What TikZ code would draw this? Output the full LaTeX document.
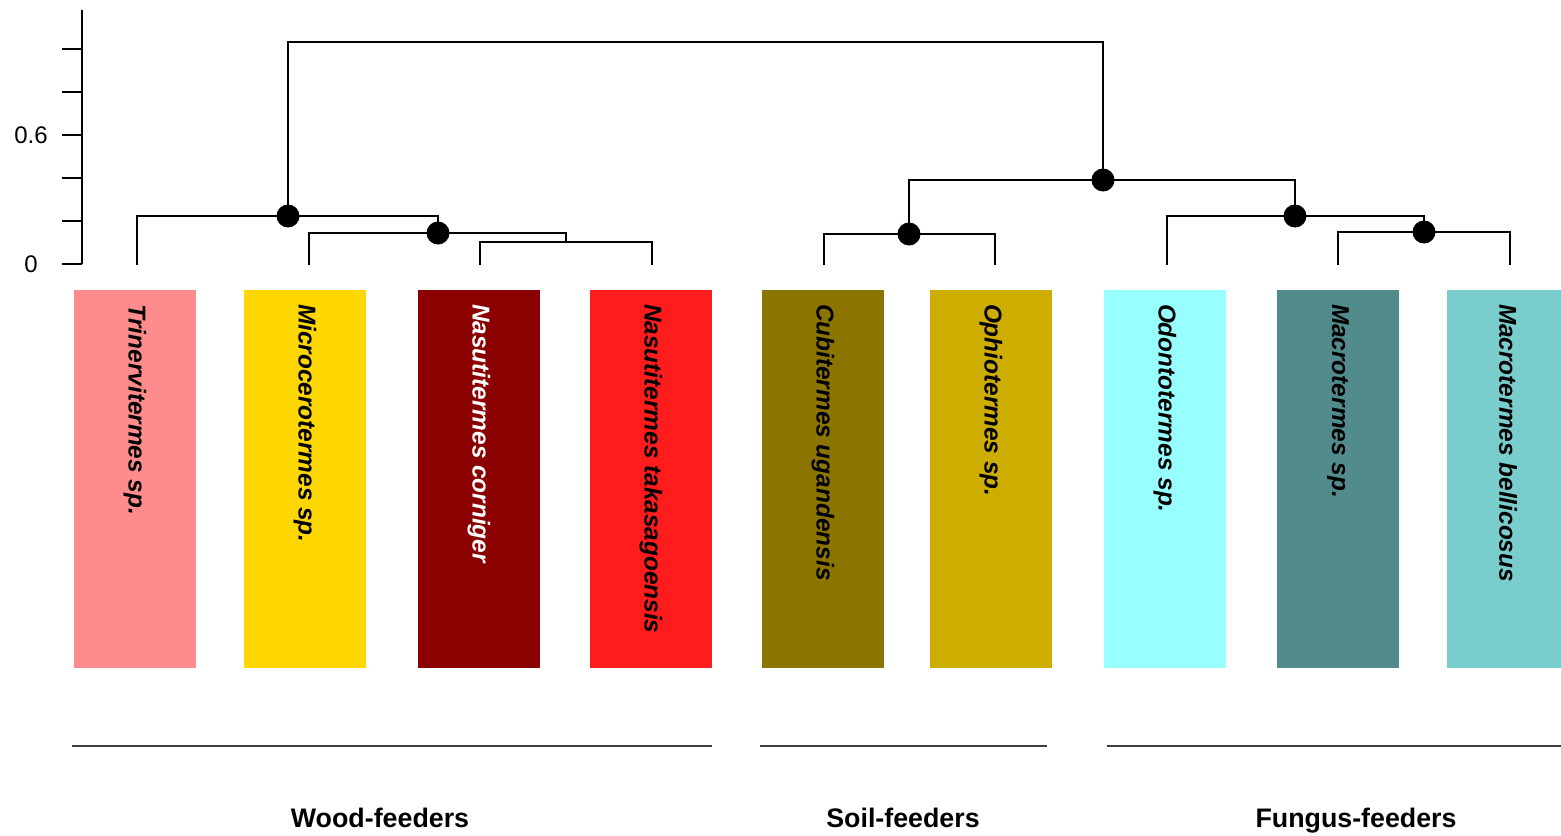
\documentclass[tikz,border=0pt]{standalone}
\usepackage{fontspec}
\setmainfont{Liberation Sans}
\usepackage{xcolor}
\usepackage{tikz}
\usetikzlibrary{calc}
\definecolor{trinc}{HTML}{FF8C8C}
\definecolor{microc}{HTML}{FFD700}
\definecolor{nasucc}{HTML}{8B0000}
\definecolor{nasutc}{HTML}{FF1C1C}
\definecolor{cubic}{HTML}{8B7500}
\definecolor{ophic}{HTML}{CDAD00}
\definecolor{odonc}{HTML}{97FFFF}
\definecolor{macrsc}{HTML}{528B8B}
\definecolor{macrbc}{HTML}{79CDCD}

\begin{document}
\begin{tikzpicture}[
    x=0.5pt, y=-0.5pt,
    every node/.style={font=\fontsize{12}{14}\selectfont},
    branch/.style={line width=1.15pt, black},
    axis/.style={line width=1.1pt, black},
    nodedot/.style={circle, fill=black, inner sep=0pt, minimum size=11.5pt},
    taxon/.style={minimum width=61pt, minimum height=189pt, inner sep=0pt},
    taxlabel/.style={rotate=-90, anchor=west, inner sep=0pt, font=\fontsize{12.2}{14}\selectfont\bfseries\itshape},
    groupline/.style={line width=1.1pt, black!75},
    grouplabel/.style={anchor=base, font=\fontsize{13.4}{16}\selectfont\bfseries}
  ]
  \useasboundingbox (0,0) rectangle (1561,835);

  % --- Height axis ---
  \draw[axis] (82,10) -- (82,264);
  \foreach \t in {0,...,5}
    \draw[axis] (62,264-43*\t) -- (82,264-43*\t);
  \node (ax0) at (31,264) {0};
  \node (ax6) at (31,135) {0.6};

  % --- Taxon boxes ---
  \node[taxon, fill=trinc]  (b1) at (135,479) {};
  \node[taxon, fill=microc] (b2) at (305,479) {};
  \node[taxon, fill=nasucc] (b3) at (479,479) {};
  \node[taxon, fill=nasutc] (b4) at (651,479) {};
  \node[taxon, fill=cubic]  (b5) at (823,479) {};
  \node[taxon, fill=ophic]  (b6) at (991,479) {};
  \node[taxon, fill=odonc]  (b7) at (1165,479) {};
  \node[taxon, fill=macrsc] (b8) at (1338,479) {};
  \node[taxon, fill=macrbc] (b9) at (1508,479) {};

  % --- Taxon names ---
  \node[taxlabel] (t1) at ([yshift=-7pt]b1.north) {Trinervitermes sp.};
  \node[taxlabel] (t2) at ([yshift=-7pt]b2.north) {Microcerotermes sp.};
  \node[taxlabel, text=white] (t3) at ([yshift=-7pt]b3.north) {Nasutitermes corniger};
  \node[taxlabel] (t4) at ([yshift=-7pt]b4.north) {Nasutitermes takasagoensis};
  \node[taxlabel] (t5) at ([yshift=-7pt]b5.north) {Cubitermes ugandensis};
  \node[taxlabel] (t6) at ([yshift=-7pt]b6.north) {Ophiotermes sp.};
  \node[taxlabel] (t7) at ([yshift=-7pt]b7.north) {Odontotermes sp.};
  \node[taxlabel] (t8) at ([yshift=-7pt]b8.north) {Macrotermes sp.};
  \node[taxlabel] (t9) at ([yshift=-7pt]b9.north) {Macrotermes bellicosus};

  % --- Leaf tips and joins ---
  \coordinate (L1) at (137,265);
  \coordinate (L2) at (309,265);
  \coordinate (L3) at (480,265);
  \coordinate (L4) at (652,265);
  \coordinate (L5) at (824,265);
  \coordinate (L6) at (995,265);
  \coordinate (L7) at (1167,265);
  \coordinate (L8) at (1338,265);
  \coordinate (L9) at (1510,265);
  \coordinate (n34) at (566,242);
  \coordinate (n234) at (438,233);
  \coordinate (n1234) at (288,216);
  \coordinate (n56) at (909,234);
  \coordinate (n89) at (1424,232);
  \coordinate (n789) at (1295,216);
  \coordinate (n59) at (1103,180);
  \coordinate (root) at (695,42);

  % --- Branches ---
  \draw[branch] (L3) |- (n34) -| (L4);
  \draw[branch] (L2) |- (n234) -| (n34);
  \draw[branch] (L1) |- (n1234) -| (n234);
  \draw[branch] (L5) |- (n56) -| (L6);
  \draw[branch] (L8) |- (n89) -| (L9);
  \draw[branch] (L7) |- (n789) -| (n89);
  \draw[branch] (n56) |- (n59) -| (n789);
  \draw[branch] (n1234) |- (root) -| (n59);

  % --- Supported nodes ---
  \node[nodedot] (d234) at (n234) {};
  \node[nodedot] (d1234) at (n1234) {};
  \node[nodedot] (d56) at (n56) {};
  \node[nodedot] (d89) at (n89) {};
  \node[nodedot] (d789) at (n789) {};
  \node[nodedot] (d59) at (n59) {};

  % --- Feeding groups ---
  \draw[groupline] (72,746) -- (712,746);
  \draw[groupline] (760,746) -- (1047,746);
  \draw[groupline] (1107,746) -- (1561,746);
  \node[grouplabel] (gwood) at (380,827) {Wood-feeders};
  \node[grouplabel] (gsoil) at (903,827) {Soil-feeders};
  \node[grouplabel] (gfung) at (1356,827) {Fungus-feeders};

\end{tikzpicture}
\end{document}
